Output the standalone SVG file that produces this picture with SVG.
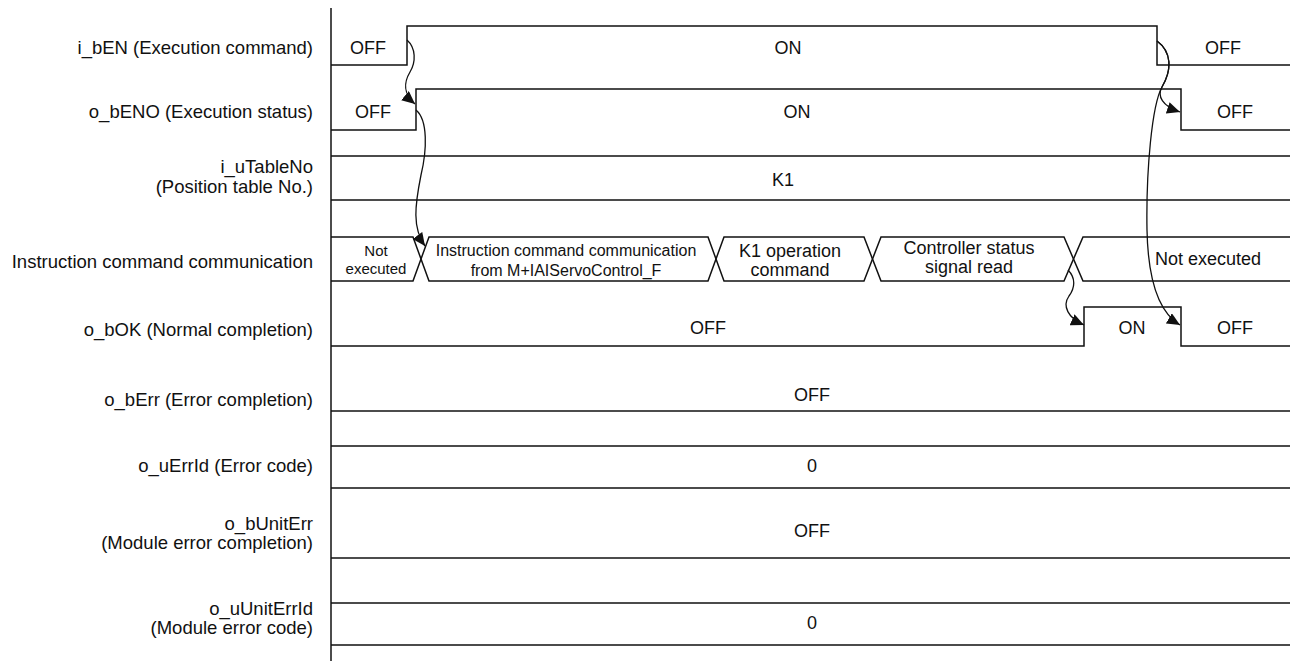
<svg xmlns="http://www.w3.org/2000/svg" width="1292" height="661" viewBox="0 0 1292 661">
<style>
text{font-family:"Liberation Sans",Arial,sans-serif;font-size:18px;fill:#111}
.lbl{text-anchor:end;font-size:18.5px}
.v{text-anchor:middle}
.sm{font-size:15px}
.md{font-size:16px}
.w{fill:none;stroke:#111;stroke-width:1.5}
.c{fill:none;stroke:#111;stroke-width:1.3}
</style>
<defs>
<marker id="ah" markerUnits="userSpaceOnUse" markerWidth="14" markerHeight="12" refX="13" refY="6" orient="auto">
<path d="M0,0 L13,6 L0,12 z" fill="#111"/>
</marker>
</defs>
<rect width="1292" height="661" fill="#fff"/>
<line x1="331" y1="8" x2="331" y2="661" class="w"/>
<g id="sig-bEN">
<text class="lbl" x="313" y="54">i_bEN (Execution command)</text>
<path class="w" d="M331,65 H407 V26 H1157 V65 H1290"/>
<text class="v" x="368" y="54">OFF</text>
<text class="v" x="788" y="54">ON</text>
<text class="v" x="1223" y="54">OFF</text>
</g>
<g id="sig-bENO">
<text class="lbl" x="313" y="118">o_bENO (Execution status)</text>
<path class="w" d="M331,130 H416 V89 H1181 V130 H1290"/>
<text class="v" x="373" y="118">OFF</text>
<text class="v" x="797" y="118">ON</text>
<text class="v" x="1235" y="118">OFF</text>
</g>
<g id="sig-uTableNo">
<text class="lbl" x="313" y="173">i_uTableNo</text>
<text class="lbl" x="313" y="193">(Position table No.)</text>
<path class="w" d="M331,156 H1290 M331,200 H1290"/>
<text class="v" x="783" y="186">K1</text>
</g>
<g id="sig-comm">
<text class="lbl" x="313" y="268">Instruction command communication</text>
<path class="w" d="M331,237 H413 L429,281 H708 L724,237 H864 L881,281 H1064 L1083,237 H1290"/>
<path class="w" d="M331,281 H413 L429,237 H708 L724,281 H864 L881,237 H1064 L1083,281 H1290"/>
<text class="v sm" x="376" y="256">Not</text>
<text class="v sm" x="376" y="274">executed</text>
<text class="v md" x="566" y="256">Instruction command communication</text>
<text class="v md" x="566" y="276">from M+IAIServoControl_F</text>
<text class="v" x="790" y="257">K1 operation</text>
<text class="v" x="790" y="276">command</text>
<text class="v" x="969" y="254">Controller status</text>
<text class="v" x="969" y="273">signal read</text>
<text class="v" x="1208" y="265">Not executed</text>
</g>
<g id="sig-bOK">
<text class="lbl" x="313" y="336">o_bOK (Normal completion)</text>
<path class="w" d="M331,346 H1084 V307 H1181 V346 H1290"/>
<text class="v" x="708" y="334">OFF</text>
<text class="v" x="1132" y="334">ON</text>
<text class="v" x="1235" y="334">OFF</text>
</g>
<g id="sig-bErr">
<text class="lbl" x="313" y="406">o_bErr (Error completion)</text>
<path class="w" d="M331,411 H1290"/>
<text class="v" x="812" y="401">OFF</text>
</g>
<g id="sig-uErrId">
<text class="lbl" x="313" y="472">o_uErrId (Error code)</text>
<path class="w" d="M331,446 H1290 M331,488 H1290"/>
<text class="v" x="812" y="472">0</text>
</g>
<g id="sig-bUnitErr">
<text class="lbl" x="313" y="530">o_bUnitErr</text>
<text class="lbl" x="313" y="549">(Module error completion)</text>
<path class="w" d="M331,558 H1290"/>
<text class="v" x="812" y="537">OFF</text>
</g>
<g id="sig-uUnitErrId">
<text class="lbl" x="313" y="615">o_uUnitErrId</text>
<text class="lbl" x="313" y="634">(Module error code)</text>
<path class="w" d="M331,603 H1290 M331,645 H1290"/>
<text class="v" x="812" y="629">0</text>
</g>
<g id="connectors">
<path class="c" marker-end="url(#ah)" d="M407,40 C416,48 416,62 410,72 C404,82 403,94 415,104"/>
<path class="c" marker-end="url(#ah)" d="M416,110 C428,120 427,150 421,175 C415,205 412,228 425,246"/>
<path class="c" marker-end="url(#ah)" d="M1157,41 C1172,52 1172,70 1162,87 C1157,96 1162,106 1180,112"/>
<path class="c" marker-end="url(#ah)" d="M1157,41 C1172,52 1172,70 1162,87 C1152,105 1146,170 1147,230 C1148,280 1158,312 1180,325"/>
<path class="c" marker-end="url(#ah)" d="M1068,270 C1076,278 1075,288 1069,296 C1062,306 1068,318 1084,325"/>
</g>
</svg>
